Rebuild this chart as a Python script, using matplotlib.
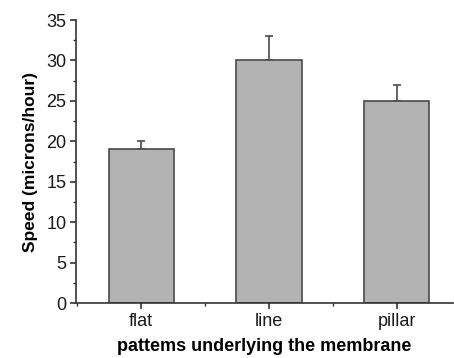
import matplotlib.pyplot as plt
from matplotlib.ticker import MultipleLocator

plt.rcParams['font.family'] = ['Liberation Sans', 'DejaVu Sans']

categories = ["flat", "line", "pillar"]
speeds = [19, 30, 25]
errors = [1, 3, 2]

fig = plt.figure(figsize=(4.54, 3.58), dpi=100)
ax = fig.add_axes([0.1674, 0.1536, 0.8306, 0.7904])

x = range(len(categories))
ax.bar(x, speeds, width=0.51, color="#b3b3b3", edgecolor="#4a4a4a", linewidth=1.2, zorder=2)
ax.errorbar(x, speeds, yerr=[[0] * len(errors), errors], fmt="none", ecolor="#4a4a4a",
            elinewidth=1.2, capsize=3, capthick=1.2, zorder=1)

ax.set_xlim(-0.51, 2.44)
ax.set_ylim(0, 35)
ax.set_xticks(list(x))
ax.set_xticklabels(categories)
ax.xaxis.set_minor_locator(MultipleLocator(0.5))
ax.yaxis.set_major_locator(MultipleLocator(5))
ax.yaxis.set_minor_locator(MultipleLocator(2.5))

for s in ["top", "right"]:
    ax.spines[s].set_visible(False)
for s in ["left", "bottom"]:
    ax.spines[s].set_color("#333333")
    ax.spines[s].set_linewidth(1.2)

ax.tick_params(which="major", direction="out", length=4, width=1.2, colors="#333333",
               labelsize=13, labelcolor="#1a1a1a", pad=3)
ax.tick_params(which="minor", direction="out", length=2, width=1.0, colors="#333333")

ax.set_ylabel("Speed (microns/hour)", fontsize=12.5, fontweight="bold", labelpad=6)
ax.set_xlabel("pattems underlying the membrane", fontsize=13, fontweight="bold", labelpad=6)

fig.savefig("out.png", dpi=100)
